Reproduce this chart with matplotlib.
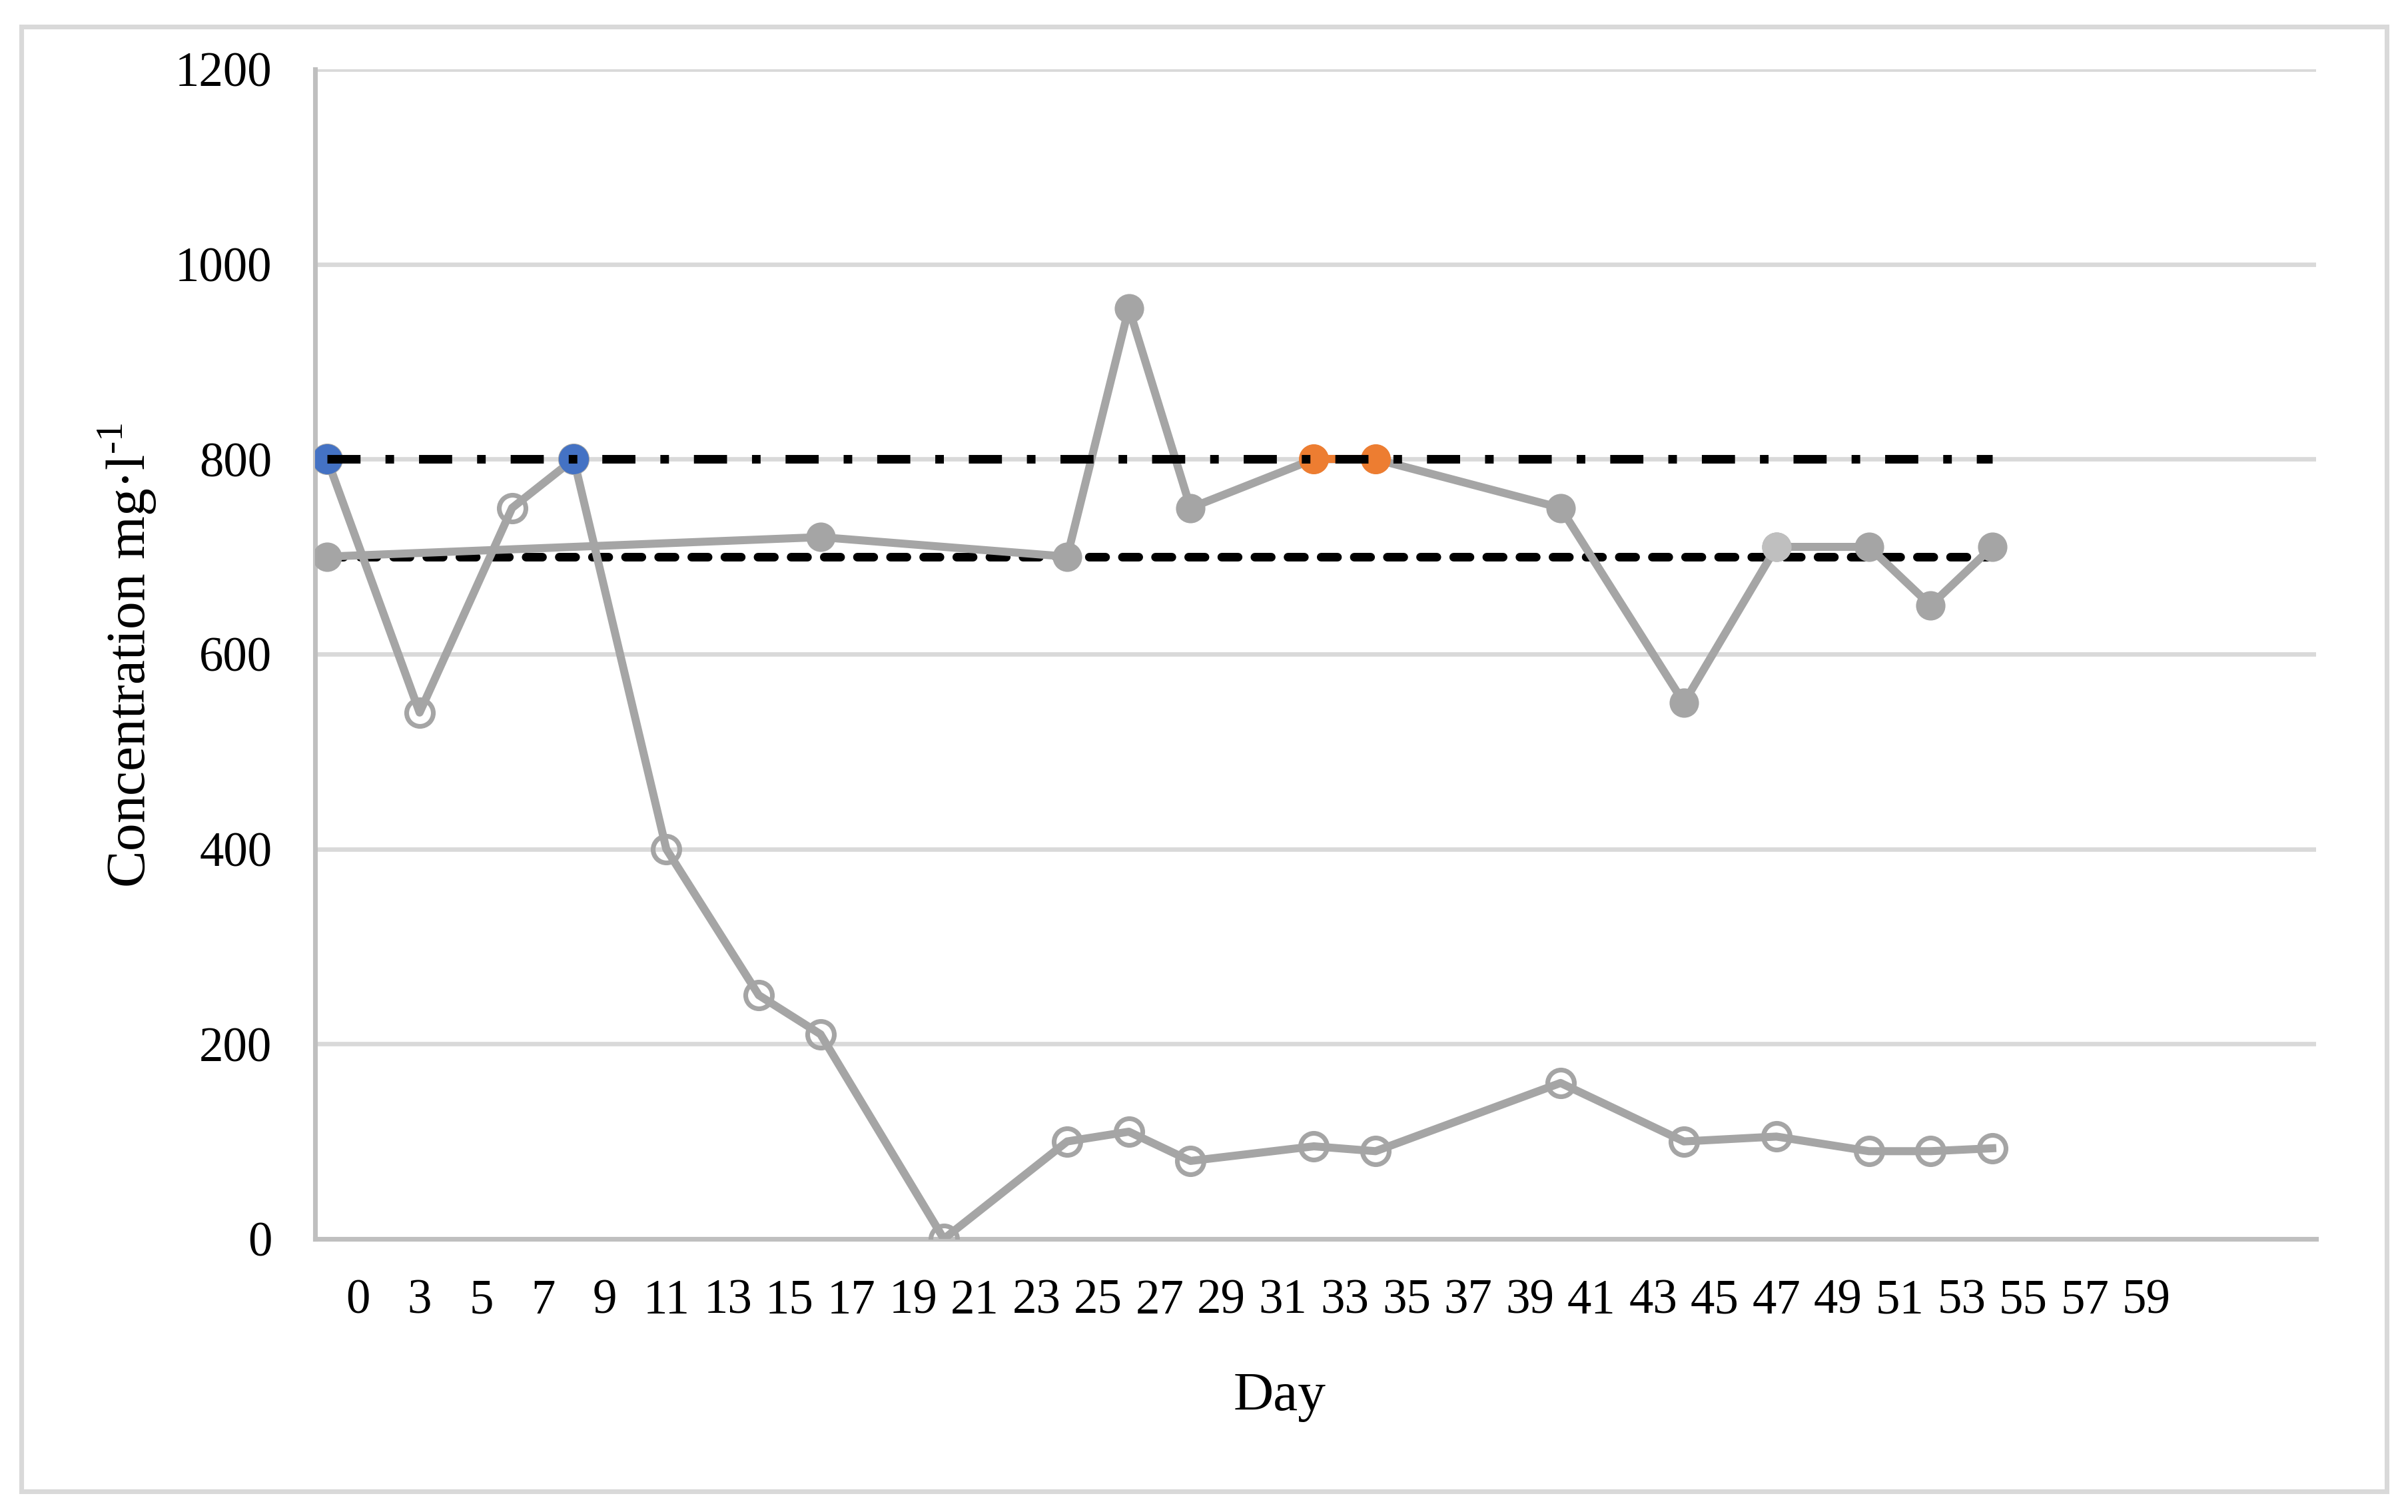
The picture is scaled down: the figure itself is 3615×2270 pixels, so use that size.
import matplotlib.pyplot as plt
from matplotlib.patches import Rectangle

plt.rcParams['font.family'] = ['Liberation Serif', 'DejaVu Serif']
plt.rcParams['mathtext.fontset'] = 'custom'
plt.rcParams['mathtext.rm'] = 'Liberation Serif'

# measured series (day, mg/l)
days_low = [0, 3, 6, 8, 11, 14, 16, 20, 24, 26, 28, 32, 34, 40, 44, 47, 50, 52, 54]
conc_low = [800, 540, 750, 800, 400, 250, 210, 0, 100, 110, 80, 95, 90, 160, 100, 105, 90, 90, 93]

days_high = [0, 16, 24, 26, 28, 32, 34, 40, 44, 47, 50, 52, 54]
conc_high = [700, 720, 700, 955, 750, 800, 800, 750, 550, 710, 710, 650, 710]

# reference levels
ref_days = [0, 54]
limit_800 = [800, 800]
limit_700 = [700, 700]

# highlighted points
blue_days = [0, 8]
blue_conc = [800, 800]
orange_days = [32, 34]
orange_conc = [800, 800]
light_days = [47]
light_conc = [710]

tick_pos = list(range(1, 60, 2))
tick_labels = ['0'] + [str(d) for d in range(3, 60, 2)]

GRAY = '#A5A5A5'
BLUE = '#4472C4'
ORANGE = '#ED7D31'

fig = plt.figure(figsize=(3615 / 300, 2270 / 300), dpi=300)
ax = fig.add_axes([473 / 3615, 1 - 1860 / 2270, (3477 - 473) / 3615, (1860 - 104) / 2270])

# chart border
fig.patches.append(Rectangle((32 / 3615, 1 - 2239 / 2270), (3583 - 32) / 3615, (2239 - 40) / 2270,
                             transform=fig.transFigure, fill=False, edgecolor='#D9D9D9', linewidth=1.7))

ax.plot(ref_days, limit_700, color='black', lw=3.1, linestyle=(0, (1.9, 1.95)),
        dash_capstyle='round', zorder=2)

ax.plot(days_low, conc_low, color=GRAY, lw=2.9, marker='o', ms=9.6, mfc='none', mec=GRAY,
        mew=1.7, solid_joinstyle='round', zorder=3)
ax.plot(days_high, conc_high, color=GRAY, lw=2.9, marker='o', ms=10.6, mfc=GRAY, mew=0,
        solid_joinstyle='round', zorder=3)
ax.plot(orange_days, orange_conc, color=ORANGE, lw=2.9, zorder=3.1)
ax.plot(blue_days, blue_conc, linestyle='none', marker='o', ms=10.8, mfc=BLUE, mew=0, zorder=3.2)
ax.plot(orange_days, orange_conc, linestyle='none', marker='o', ms=10.8, mfc=ORANGE, mew=0, zorder=3.2)
ax.plot(light_days, light_conc, linestyle='none', marker='o', ms=10.6, mfc='#BFBFBF', mew=0, zorder=3.2)

ax.plot(ref_days, limit_800, color='black', lw=3.1, linestyle=(0, (3.85, 2.9, 1.0, 2.9)),
        dash_capstyle='butt', zorder=4)

ax.set_xlim(-0.39, 64.5)
ax.set_ylim(0, 1200)
ax.set_yticks(range(0, 1201, 200))
ax.set_xticks(tick_pos)
ax.set_xticklabels(tick_labels)
ax.grid(axis='y', color='#D9D9D9', lw=1.6, zorder=0.5)
ax.set_axisbelow(True)

for s in ['top', 'right']:
    ax.spines[s].set_visible(False)
for s in ['left', 'bottom']:
    ax.spines[s].set_color('#BFBFBF')
    ax.spines[s].set_linewidth(1.7)

ax.tick_params(axis='x', length=0, pad=14.5, labelsize=17.5)
ax.tick_params(axis='y', length=0, pad=15.5, labelsize=17.5)

fig.text(0.5314, 1 - 2117 / 2270, 'Day', ha='center', va='baseline', fontsize=20)
fig.text(0.053, 1 - 984 / 2270, r'Concentration mg·l$^{\text{-1}}$', rotation=90,
         ha='center', va='center', fontsize=20)

fig.savefig('out.png', dpi=300)
